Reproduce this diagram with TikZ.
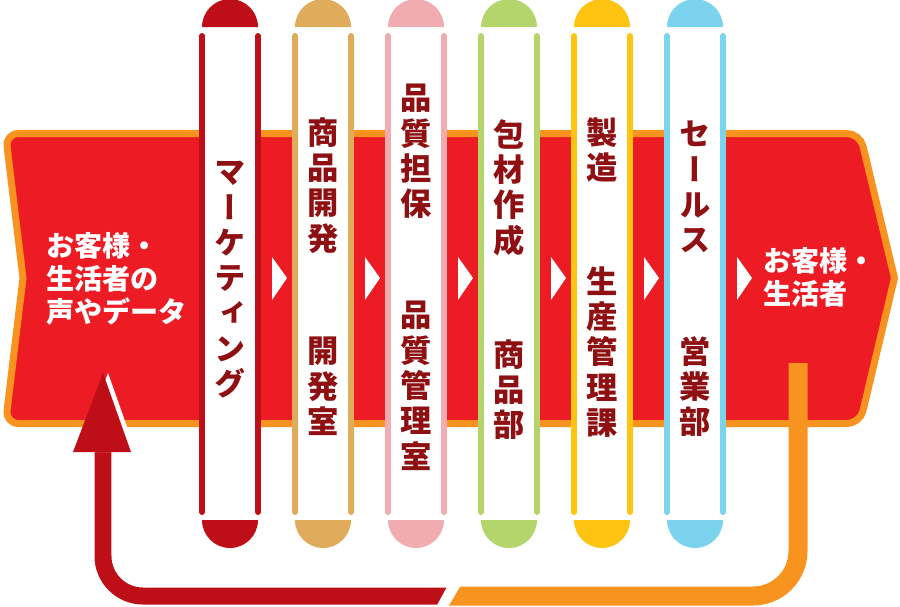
\documentclass[tikz,border=0pt]{standalone}
\usepackage{fontspec}
\usepackage{tikz}
\usetikzlibrary{positioning}
\newfontfamily\jpfont{Noto Sans CJK JP}
\newfontfamily\jpvfont{Noto Sans CJK JP}[RawFeature=+vert]
\definecolor{bandred}{HTML}{ED1C24}
\definecolor{bandrim}{HTML}{F7931E}
\definecolor{deepred}{HTML}{BE0F19}
\definecolor{inkred}{HTML}{8E1012}
\definecolor{pillA}{HTML}{BE0F19}
\definecolor{pillB}{HTML}{E0AB5B}
\definecolor{pillC}{HTML}{F0ACAF}
\definecolor{pillD}{HTML}{B4D56B}
\definecolor{pillE}{HTML}{FFC412}
\definecolor{pillF}{HTML}{7BD3EE}

\begin{document}
\begin{tikzpicture}[x=0.02cm, y=-0.02cm,
  dept/.style={inner sep=0pt, anchor=north, align=center, text=inkred,
    font=\jpvfont\bfseries\fontsize{17.8pt}{20.1pt}\selectfont},
  who/.style={inner sep=0pt, anchor=north west, align=left, text=white,
    font=\jpfont\bfseries\fontsize{16pt}{18.7pt}\selectfont}]
\useasboundingbox (0,0) rectangle (900,606);
% the band
\draw[bandrim, fill=bandred, line width=0.14cm] (23,278) [rounded corners=0.26cm] -- (5.5,133.5) -- (860,133.5) [sharp corners] -- (894.5,278) [rounded corners=0.26cm] -- (860,423.5) -- (5.5,423.5) [sharp corners] -- cycle;
% return loop
\coordinate (loopfrom) at (798,363);
\coordinate (loopjoin) at (448,596);
\coordinate (loopto) at (103,440);
\draw[bandrim, line width=0.38cm, rounded corners=0.9cm] (loopfrom) -- (798,596) -- (loopjoin);
\draw[deepred, line width=0.34cm, rounded corners=0.8cm] (loopto) -- (103,596) -- (loopjoin);
\fill[white] (448,585) -- (461,585) -- (448,607) -- (436,607) -- cycle;
\fill[white] (108,373) -- (136,452) -- (78,452) -- cycle;
\fill[deepred] (103,373) -- (131,452) -- (73,452) -- cycle;
% the six pills
\foreach \cx/\pc in {230/pillA,323/pillB,416/pillC,509/pillD,602/pillE,695/pillF}{
  \fill[\pc] (\cx-28,27) arc[start angle=180, end angle=360, radius=28] -- cycle;
  \fill[\pc] (\cx-28,520) arc[start angle=180, end angle=0, radius=28] -- cycle;
  \fill[white] (\cx-28,33) rectangle (\cx+28,515);
  \draw[\pc, line width=0.12cm, line cap=round] (\cx-28,36) -- (\cx-28,512) (\cx+28,36) -- (\cx+28,512);
  \fill[white] (\cx+42,257) -- (\cx+57,278) -- (\cx+42,300) -- cycle;
}
\node[dept] (mkt) at (230,161) {マ\\ー\\ケ\\テ\\ィ\\ン\\グ};
\node[dept] (dev) at (323,117) {商\\品\\開\\発};
\node[dept] (devsec) at (323,337) {開\\発\\室};
\node[dept] (qa) at (416,84) {品\\質\\担\\保};
\node[dept] (qasec) at (416,301) {品\\質\\管\\理\\室};
\node[dept] (pack) at (509,119) {包\\材\\作\\成};
\node[dept] (packsec) at (509,339) {商\\品\\部};
\node[dept] (make) at (602,117) {製\\造};
\node[dept] (makesec) at (602,266) {生\\産\\管\\理\\課};
\node[dept] (sales) at (695,121) {セ\\ー\\ル\\ス};
\node[dept] (salessec) at (695,336) {営\\業\\部};
\node[who] (voice) at (46,232) {お客様・\\生活者の\\声やデータ};
\node[who] (client) at (763,247) {お客様・\\生活者};
\end{tikzpicture}
\end{document}
